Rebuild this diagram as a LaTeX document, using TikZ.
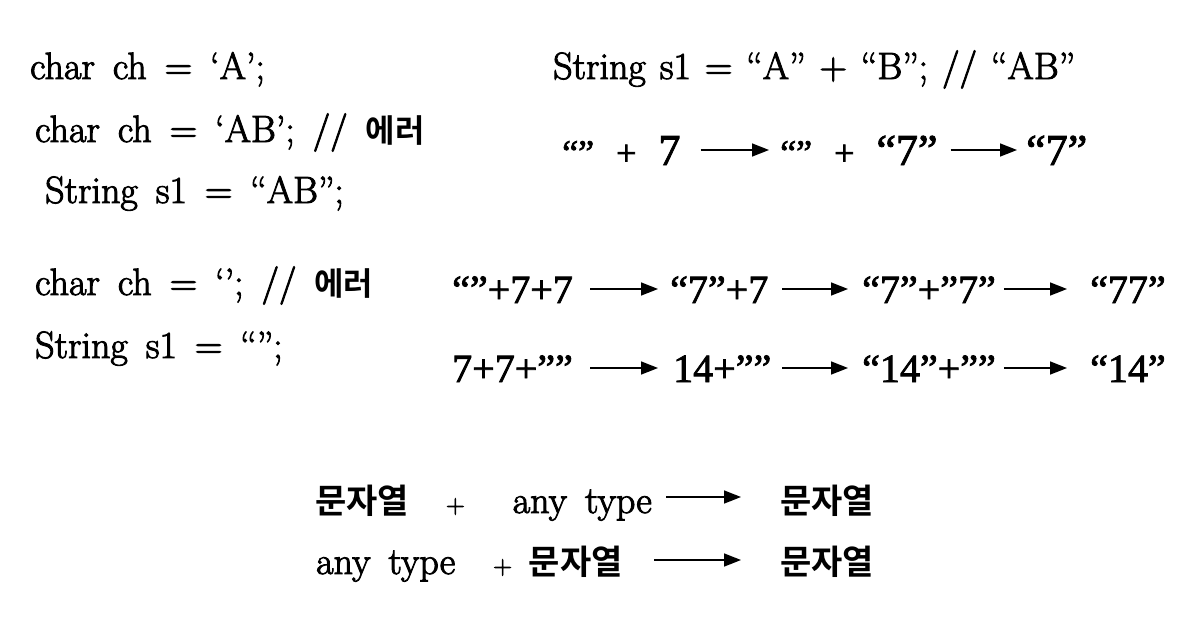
\documentclass[tikz,border=0pt]{standalone}
\usepackage{fontspec}
\newfontfamily\codefont{Latin Modern Roman}[FakeBold=2.5]
\newfontfamily\kr{Noto Sans CJK KR}[BoldFont={Noto Sans CJK KR Bold}]
\newfontfamily\numfont{Liberation Serif}[FakeBold=2]
\usetikzlibrary{arrows.meta}

\newcommand{\hangul}[1]{{\kr\bfseries\fontsize{32}{36}\selectfont #1}}
\newcommand{\hangulbig}[1]{{\kr\bfseries\fontsize{34}{38}\selectfont #1}}
\newcommand{\bignum}[1]{{\fontsize{44}{48}\selectfont #1}}
\newcommand{\smallplus}{{\fontsize{26}{30}\selectfont +}}

\begin{document}
\begin{tikzpicture}[
    x=1pt, y=1pt,
    code/.style={anchor=base west, inner sep=0pt,
                 font={\codefont\fontsize{38}{42}\selectfont\spaceskip=18pt\relax}},
    tight/.style={code, font={\codefont\fontsize{38}{42}\selectfont\spaceskip=14pt\relax}},
    rowtwo/.style={anchor=base west, inner sep=0pt,
                 font={\numfont\fontsize{36}{40}\selectfont\spaceskip=22pt\relax}},
    num/.style={anchor=base west, inner sep=0pt,
                 font={\numfont\fontsize{40}{44}\selectfont}},
    arr/.style={-{Triangle[length=17pt,width=13pt]}, line width=1.6pt}
]
    \useasboundingbox (0,0) rectangle (1182,-634);

    % char / String declarations
    \node[code] (c1) at (30,-79)  {char ch = ‘A’;};
    \node[code] (c2) at (35,-142) {char ch = ‘AB’; // \hangul{에러}};
    \node[code] (c3) at (45,-203) {String s1 = “AB”;};
    \node[code] (c4) at (35,-295) {char ch = ‘’; // \hangul{에러}};
    \node[code] (c5) at (35,-358) {String s1 = “”;};

    \node[tight] (s0) at (553,-79) {String s1 = “A” + “B”; // “AB”};

    % "" + 7
    \node[rowtwo] (e1) at (562,-165)  {“” + \bignum{7}};
    \node[rowtwo] (e2) at (780,-165)  {“” + \bignum{“7”}};
    \node[rowtwo] (e3) at (1026,-165) {\bignum{“7”}};
    \draw[arr, shorten <=20pt, shorten >=11pt] ([yshift=15pt]e1.base east) -- ([yshift=15pt]e2.base west);
    \draw[arr, shorten <=13pt, shorten >=9pt] ([yshift=15pt]e2.base east) -- ([yshift=15pt]e3.base west);

    % left to right evaluation
    \node[num] (r4a) at (452,-303)  {“”+7+7};
    \node[num] (r4b) at (670,-303)  {“7”+7};
    \node[num] (r4c) at (862,-303)  {“7”+”7”};
    \node[num] (r4d) at (1090,-303) {“77”};

    \node[num] (r5a) at (452,-382)  {7+7+””};
    \node[num] (r5b) at (673,-382)  {14+””};
    \node[num] (r5c) at (862,-382)  {“14”+””};
    \node[num] (r5d) at (1090,-382) {“14”};

    \foreach \a/\b/\s/\e in {r4a/r4b/17/12, r4b/r4c/14/14, r4c/r4d/8/23,
                             r5a/r5b/17/15, r5b/r5c/11/14, r5c/r5d/8/23}
        \draw[arr, shorten <=\s pt, shorten >=\e pt] ([yshift=14pt]\a.base east) -- ([yshift=14pt]\b.base west);

    % rule
    \node[code] (k1) at (315,-513) {\hangulbig{문자열}\hspace{37pt}\smallplus\hspace{48pt}any type};
    \node[code] (k2) at (780,-513) {\hangulbig{문자열}};
    \node[code] (k3) at (316,-574) {any type\hspace{38pt}\smallplus\hspace{17pt}\hangulbig{문자열}};
    \node[code] (k4) at (780,-574) {\hangulbig{문자열}};
    \draw[arr, shorten <=14pt, shorten >=39pt] ([yshift=16pt]k1.base east) -- ([yshift=16pt]k2.base west);
    \draw[arr, shorten <=31pt, shorten >=39pt] ([yshift=14pt]k3.base east) -- ([yshift=14pt]k4.base west);
\end{tikzpicture}
\end{document}
